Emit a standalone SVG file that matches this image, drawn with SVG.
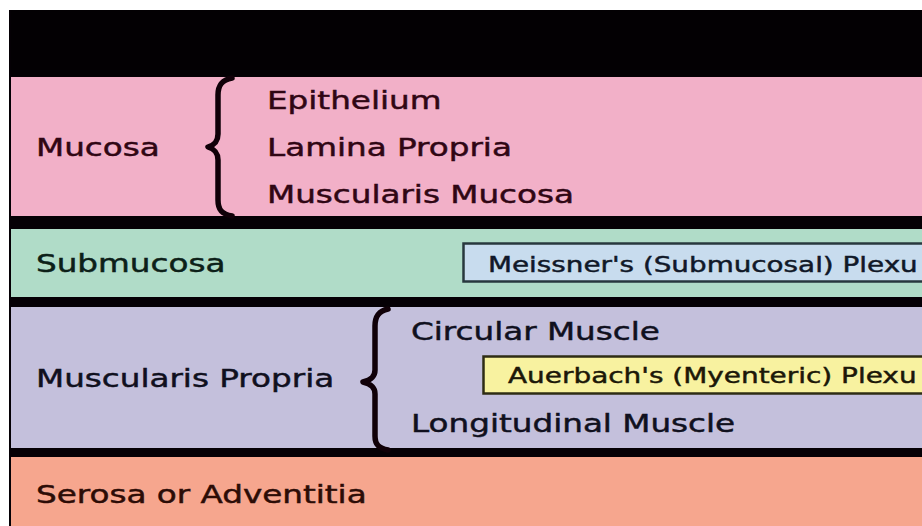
<svg xmlns="http://www.w3.org/2000/svg" width="922" height="526" viewBox="0 0 922 526">
  <style>
    .t { font-family: "DejaVu Sans", "Liberation Sans", sans-serif; font-size: 24px; stroke-width: 0.45; }
    .s { font-family: "DejaVu Sans", "Liberation Sans", sans-serif; font-size: 21px; stroke-width: 0.45; }
    .brace { fill: none; stroke: #100008; stroke-width: 5.5; stroke-linecap: round; stroke-linejoin: round; }
  </style>
  <rect width="922" height="526" fill="#ffffff"/>
  <rect id="frame" x="9" y="10" width="913" height="516" fill="#050005"/>

  <g id="lumen">
    <rect x="11" y="10" width="911" height="66" fill="#030003"/>
  </g>

  <g id="mucosa">
    <rect x="11" y="77" width="911" height="139" fill="#f2b0c8"/>
    <text class="t" fill="#300614" stroke="#300614" transform="translate(36,156) scale(1.36,1)">Mucosa</text>
    <path class="brace" d="M232,78 C222,80 218,85 218,95 L218,134 C218,142 214,145 208,147 C214,149 218,152 218,160 L218,200 C218,210 222,214 232,216"/>
    <text class="t" fill="#300614" stroke="#300614" transform="translate(267,109) scale(1.36,1)">Epithelium</text>
    <text class="t" fill="#300614" stroke="#300614" transform="translate(267,156) scale(1.36,1)">Lamina Propria</text>
    <text class="t" fill="#300614" stroke="#300614" transform="translate(267,203) scale(1.36,1)">Muscularis Mucosa</text>
  </g>

  <g id="submucosa">
    <rect x="11" y="229" width="911" height="68" fill="#b0dcc8"/>
    <text class="t" fill="#0c2018" stroke="#0c2018" transform="translate(36,272) scale(1.36,1)">Submucosa</text>
  </g>

  <g id="meissner">
    <rect x="463.5" y="243.5" width="480" height="38" fill="#c8dcee" stroke="#28383e" stroke-width="2.5"/>
    <text class="s" fill="#101828" stroke="#101828" transform="translate(488,272) scale(1.325,1)">Meissner's (Submucosal) Plexu</text>
  </g>

  <g id="muscularis-propria">
    <rect x="11" y="307" width="911" height="141" fill="#c4c0dc"/>
    <text class="t" fill="#10101e" stroke="#10101e" transform="translate(36,387) scale(1.36,1)">Muscularis Propria</text>
    <path class="brace" d="M388,309 C379,311 375,316 375,326 L375,370 C375,377 371,380 363,382 C371,384 375,387 375,394 L375,436 C375,445 379,448 388,450"/>
    <text class="t" fill="#10101e" stroke="#10101e" transform="translate(411,340) scale(1.36,1)">Circular Muscle</text>
    <text class="t" fill="#10101e" stroke="#10101e" transform="translate(411,432) scale(1.36,1)">Longitudinal Muscle</text>
  </g>

  <g id="auerbach">
    <rect x="483.5" y="356.5" width="460" height="37" fill="#f8f2a0" stroke="#2e2c14" stroke-width="2.5"/>
    <text class="s" fill="#1c1808" stroke="#1c1808" transform="translate(508,383) scale(1.33,1)">Auerbach's (Myenteric) Plexu</text>
  </g>

  <g id="serosa">
    <rect x="11" y="457" width="911" height="69" fill="#f6a68e"/>
    <text class="t" fill="#2c0c06" stroke="#2c0c06" transform="translate(36,503) scale(1.36,1)">Serosa or Adventitia</text>
  </g>

  <g id="connectors"></g>
</svg>
